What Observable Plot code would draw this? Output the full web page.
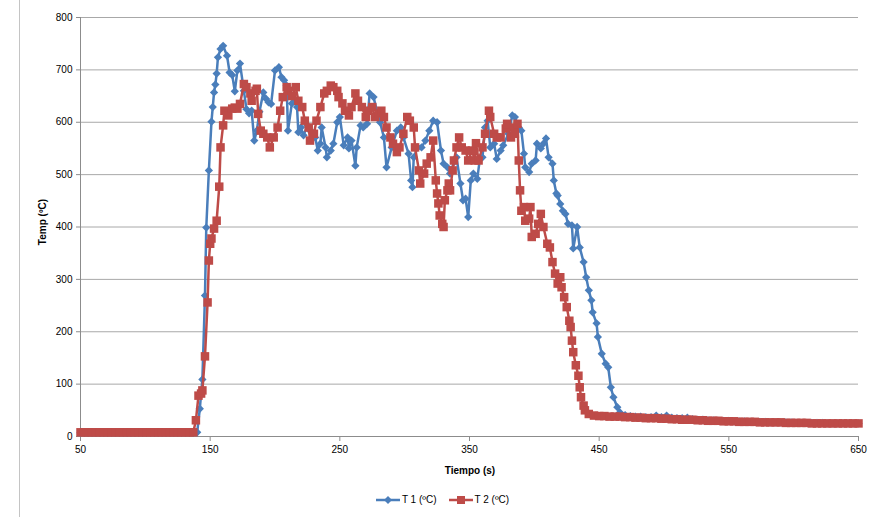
<!DOCTYPE html>
<html>
<head>
<meta charset="utf-8">
<script src="https://cdn.jsdelivr.net/npm/d3@7"></script>
<script src="https://cdn.jsdelivr.net/npm/@observablehq/plot@0.6"></script>
<style>
  html, body { margin: 0; padding: 0; background: #fff; }
  #wrap { position: relative; width: 885px; height: 517px; font-family: "Liberation Sans", Arial, sans-serif; }
  #frame { position: absolute; left: 19px; top: 0; width: 1px; height: 517px; background: #c4c4c4; }
  .atitle { position: absolute; font-size: 10px; font-weight: bold; color: #000; white-space: nowrap; }
  #legend { position: absolute; top: 494px; left: 0; width: 885px; text-align: center; font-size: 10px; color: #000; }
  #legend span.item { display: inline-flex; align-items: center; margin: 0 6px; }
  #legend svg { margin-right: 2px; }
</style>
</head>
<body>
<div id="wrap">
  <div id="frame"></div>
  <div id="chart"></div>
  <div class="atitle" id="ytitle" style="left:42px; top:222px; transform: translate(-50%,-50%) rotate(-90deg);">Temp (ºC)</div>
  <div class="atitle" id="xtitle" style="left:470px; top:470px; transform: translate(-50%,-50%);">Tiempo (s)</div>
  <div id="legend"></div>
</div>
<script>
// ---- Data ----
const xTicks = [50, 150, 250, 350, 450, 550, 650];
const yTicks = [0, 100, 200, 300, 400, 500, 600, 700, 800];
const seriesNames = ["T 1 (ºC)", "T 2 (ºC)"];

const t1Time = [50,53,56,59,62,65,68,71,74,77,80,83,86,89,92,95,98,101,104,107,110,113,116,119,122,125,128,131,134,137,140,
  142,144,146,147,149,151,152,153,154,155,156,158,160,163,165,167,169,171,173,176,178,180,182,184,186,188,191,193,195,197,
  200,203,205,207,209,210,213,215,217,218,220,222,225,227,229,231,233,235,236,239,240,243,245,248,250,253,256,257,259,262,
  263,266,268,271,273,276,279,281,284,286,290,294,297,299,303,305,306,307,310,313,316,319,322,325,328,330,333,335,338,340,
  343,345,347,349,351,353,356,358,360,362,364,366,369,371,374,376,380,383,385,388,390,392,393,396,398,401,402,405,407,409,
  411,414,415,417,418,420,422,424,426,429,430,433,435,438,440,442,444,445,448,449,452,455,457,459,461,464,466,470,
  474,478,482,486,490,494,498,502,506,510,514,518,522,526,530,534,538,542,546,550,554,558,562,566,570,574,578,582,586,590,
  594,598,602,606,610,614,618,622,626,630,634,638,642,646,650];
const t1Temp = [7,7,7,7,7,7,7,7,7,7,7,7,7,7,7,7,7,7,7,7,7,7,7,7,7,7,7,7,7,7,8,
  53,109,269,399,508,601,629,657,672,693,724,740,746,727,695,690,659,699,712,660,625,617,622,565,584,620,657,645,638,635,
  699,705,686,680,670,584,636,640,629,581,590,575,594,584,580,571,546,559,590,552,533,546,559,600,610,556,571,550,565,517,
  552,594,590,597,655,648,617,600,571,514,552,584,590,571,540,489,476,533,552,552,565,584,603,600,546,521,514,502,524,533,
  483,451,454,419,489,502,492,530,533,590,603,552,559,530,546,556,578,613,610,590,584,540,514,505,521,527,559,550,559,569,
  533,521,489,464,460,444,431,425,406,403,359,400,361,333,304,279,260,237,216,190,158,139,132,94,75,56,46,41,
  39,38,38,37,37,40,37,40,36,35,35,36,33,32,32,31,31,30,30,30,29,29,29,28,28,28,28,27,27,27,
  27,27,26,26,26,26,26,26,25,25,25,25,25,25,25];

const t2Time = [50,53,56,59,62,65,68,71,74,77,80,83,86,89,92,95,98,101,104,107,110,113,116,119,122,125,128,131,134,137,
  139,141,143,144,146,148,149,150,151,153,155,157,158,160,161,164,167,169,171,173,176,178,181,182,185,186,187,189,191,194,
  196,199,202,204,206,209,210,213,216,218,221,223,226,227,230,232,235,238,240,243,245,248,249,252,254,257,259,262,264,267,
  270,272,275,277,280,282,284,286,289,291,294,296,299,302,304,307,308,311,312,315,317,320,322,324,325,326,327,329,330,331,
  333,334,335,337,338,340,342,344,347,349,352,354,355,357,360,362,365,366,369,371,374,378,379,382,384,385,387,388,389,390,
  392,393,396,397,398,401,403,405,407,410,412,414,416,418,420,421,423,425,427,428,429,430,432,434,435,436,438,439,442,446,
  450,454,458,462,466,470,474,478,482,486,490,494,498,502,506,510,514,518,522,526,530,534,538,542,546,550,554,558,562,566,
  570,574,578,582,586,590,594,598,602,606,610,614,618,622,626,630,634,638,642,646,650];
const t2Temp = [8,8,8,8,8,8,8,8,8,8,8,8,8,8,8,8,8,8,8,8,8,8,8,8,8,8,8,8,8,8,
  31,78,82,88,153,256,336,368,378,397,412,477,552,594,622,613,626,628,626,635,673,667,655,641,660,664,616,584,578,571,
  552,571,590,622,648,667,660,650,667,641,629,603,590,565,578,603,629,655,660,670,667,660,648,636,622,613,629,655,641,629,
  610,622,629,610,617,622,610,590,571,559,543,552,578,610,603,590,552,508,483,502,521,533,565,489,464,445,422,406,400,451,
  470,483,470,508,527,552,571,552,546,527,546,527,560,527,552,578,622,610,578,571,571,588,597,571,590,578,597,527,470,431,
  438,412,416,438,381,387,406,425,400,368,361,333,311,292,304,285,266,247,221,209,183,161,136,116,94,75,59,50,43,40,
  39,39,38,38,38,37,37,36,36,35,35,35,34,34,33,33,32,32,32,31,31,30,30,30,29,29,29,28,28,28,
  28,27,27,27,27,27,26,26,26,26,26,25,25,25,25,25,25,25,25,25,25];

const colors = ["#4A7EBB", "#BE4B48"];

// ---- Build tables ----
const d1 = t1Time.map((t, i) => ({t, v: t1Temp[i]}));
const d2 = t2Time.map((t, i) => ({t, v: t2Temp[i]}));

const diamond = {
  draw(ctx, size) {
    const h = Math.sqrt(size / 2);
    ctx.moveTo(0, -h); ctx.lineTo(h, 0); ctx.lineTo(0, h); ctx.lineTo(-h, 0); ctx.closePath();
  }
};

const chart = Plot.plot({
  width: 885,
  height: 480,
  marginLeft: 80,
  marginRight: 27,
  marginTop: 17,
  marginBottom: 44,
  style: {fontFamily: "'Liberation Sans', Arial, sans-serif", fontSize: "10px", color: "#000", background: "transparent", overflow: "visible"},
  x: {domain: [50, 650]},
  y: {domain: [0, 800]},
  marks: [
    Plot.gridY(yTicks, {stroke: "#a8a8a8", strokeOpacity: 1, strokeWidth: 1}),
    Plot.ruleY([0], {stroke: "#8c8c8c"}),
    Plot.ruleX([50], {stroke: "#8c8c8c"}),
    Plot.axisX(xTicks, {tickSize: 5, tickPadding: 4, label: null, stroke: "#8c8c8c", fill: "#000"}),
    Plot.axisY(yTicks, {tickSize: 4, tickPadding: 4, label: null, stroke: "#8c8c8c", fill: "#000"}),
    Plot.line(d1, {x: "t", y: "v", stroke: colors[0], strokeWidth: 2.5}),
    Plot.dot(d1, {x: "t", y: "v", symbol: diamond, r: 3.3, fill: colors[0], stroke: "none"}),
    Plot.line(d2, {x: "t", y: "v", stroke: colors[1], strokeWidth: 2.5}),
    Plot.dot(d2, {x: "t", y: "v", symbol: "square", r: 4.8, fill: colors[1], stroke: "none"})
  ]
});
document.getElementById("chart").appendChild(chart);

// ---- Legend ----
const legend = document.getElementById("legend");
seriesNames.forEach((name, i) => {
  const item = document.createElement("span");
  item.className = "item";
  const marker = i === 0
    ? `<path d="M12,1 L16,5 L12,9 L8,5 Z" fill="${colors[0]}"/>`
    : `<rect x="8" y="1" width="8" height="8" fill="${colors[1]}"/>`;
  item.innerHTML = `<svg width="24" height="10"><line x1="0" y1="5" x2="24" y2="5" stroke="${colors[i]}" stroke-width="2.5"/>${marker}</svg><span>${name}</span>`;
  legend.appendChild(item);
});
</script>
</body>
</html>
